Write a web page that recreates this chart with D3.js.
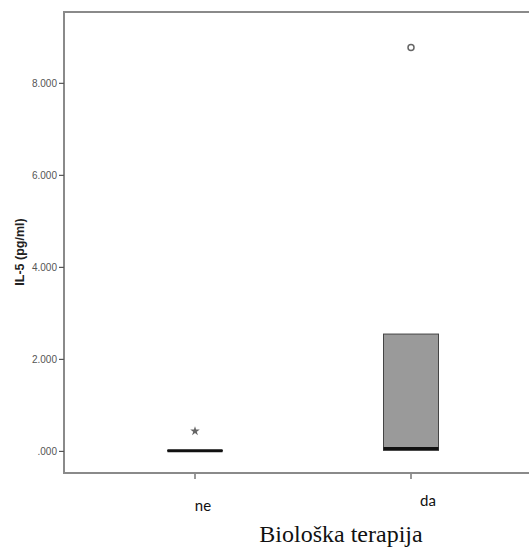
<!DOCTYPE html>
<html>
<head>
<meta charset="utf-8">
<script src="https://cdn.jsdelivr.net/npm/d3@7"></script>
<style>
  html, body { margin: 0; padding: 0; background: #fff; }
  svg { display: block; }
</style>
</head>
<body>
<svg id="chart" width="529" height="549"></svg>
<script>
// Groups on the x axis
const categories = ["ne", "da"];
// Five-number summaries per group (pg/ml)
const minVals    = [0.000, 0.000];
const q1Vals     = [0.000, 0.010];
const medianVals = [0.005, 0.050];
const q3Vals     = [0.010, 2.540];
const maxVals    = [0.010, 2.540];
// Extreme values (star) and outliers (circle)
const extremes = [{ group: "ne", value: 0.43 }];
const outliers = [{ group: "da", value: 8.77 }];
// Axis ticks
const yTicks = [0, 2, 4, 6, 8];
const yTitle = "IL-5 (pg/ml)";
const xTitle = "Biološka terapija";

const boxes = categories.map((c, i) => ({
  group: c, min: minVals[i], q1: q1Vals[i], median: medianVals[i], q3: q3Vals[i], max: maxVals[i]
}));

const svg = d3.select("#chart");
const W = 529, H = 549;
const plotLeft = 64, plotTop = 12, plotBottom = 473;

const x = d3.scaleBand().domain(categories).range([87, 519]).paddingInner(0).paddingOuter(0);
const y = d3.scaleLinear().domain([-0.48, 9.54]).range([plotBottom, plotTop]);
const boxW = 55;
const cx = g => x(g) + x.bandwidth() / 2;

const frame = "#8a8a8a";

// Plot frame (top and left sides; bottom is the x axis)
svg.append("path")
  .attr("d", `M${plotLeft},${plotBottom} V${plotTop} H${W}`)
  .attr("fill", "none").attr("stroke", frame).attr("stroke-width", 2);

// Y axis
const yAxis = svg.append("g")
  .attr("transform", `translate(${plotLeft},0)`)
  .call(d3.axisLeft(y).tickValues(yTicks).tickSize(5).tickPadding(2)
    .tickFormat(d => d === 0 ? ".000" : d3.format(".3f")(d)));
yAxis.select(".domain").remove();
yAxis.selectAll(".tick line").attr("stroke", "#555").attr("stroke-width", 1.2);
yAxis.selectAll(".tick text")
  .attr("fill", "#555")
  .attr("font-family", "Liberation Sans, Arial, sans-serif")
  .attr("font-size", 10);

// X axis
const xAxis = svg.append("g")
  .attr("transform", `translate(0,${plotBottom})`)
  .call(d3.axisBottom(x).tickSize(6).tickFormat(""));
xAxis.select(".domain").remove();
xAxis.selectAll(".tick line").attr("stroke", "#777").attr("stroke-width", 1.5);
svg.append("line")
  .attr("x1", plotLeft - 1).attr("x2", W)
  .attr("y1", plotBottom).attr("y2", plotBottom)
  .attr("stroke", frame).attr("stroke-width", 2);

// Whiskers
const g = svg.append("g");
boxes.forEach(b => {
  if (b.max > b.q3) {
    g.append("line").attr("x1", cx(b.group)).attr("x2", cx(b.group))
      .attr("y1", y(b.q3)).attr("y2", y(b.max)).attr("stroke", "#333");
    g.append("line").attr("x1", cx(b.group) - boxW / 4).attr("x2", cx(b.group) + boxW / 4)
      .attr("y1", y(b.max)).attr("y2", y(b.max)).attr("stroke", "#333");
  }
  if (b.min < b.q1) {
    g.append("line").attr("x1", cx(b.group)).attr("x2", cx(b.group))
      .attr("y1", y(b.q1)).attr("y2", y(b.min)).attr("stroke", "#333");
  }
});

// Boxes
g.selectAll("rect.box").data(boxes).join("rect")
  .attr("class", "box")
  .attr("x", d => cx(d.group) - boxW / 2)
  .attr("width", boxW)
  .attr("y", d => y(d.q3))
  .attr("height", d => Math.max(0, y(d.q1) - y(d.q3)))
  .attr("fill", "#9a9a9a")
  .attr("stroke", "#444")
  .attr("stroke-width", 1);

// Medians
g.selectAll("line.median").data(boxes).join("line")
  .attr("class", "median")
  .attr("x1", d => cx(d.group) - boxW / 2)
  .attr("x2", d => cx(d.group) + boxW / 2)
  .attr("y1", d => y(d.median)).attr("y2", d => y(d.median))
  .attr("stroke", "#111").attr("stroke-width", 3);

// Extreme values
g.selectAll("path.extreme").data(extremes).join("path")
  .attr("class", "extreme")
  .attr("d", d3.symbol(d3.symbolStar, 28))
  .attr("transform", d => `translate(${cx(d.group)},${y(d.value)})`)
  .attr("fill", "#666");

// Outliers
g.selectAll("circle.outlier").data(outliers).join("circle")
  .attr("class", "outlier")
  .attr("cx", d => cx(d.group)).attr("cy", d => y(d.value))
  .attr("r", 3)
  .attr("fill", "#fff").attr("stroke", "#666").attr("stroke-width", 1.5);

// Category labels
const catOffsets = { ne: [8, 507], da: [17, 502] };
svg.selectAll("text.cat").data(categories).join("text")
  .attr("class", "cat")
  .attr("x", d => cx(d) + catOffsets[d][0])
  .attr("y", d => catOffsets[d][1])
  .attr("text-anchor", "middle")
  .attr("dominant-baseline", "middle")
  .attr("font-family", "Lato, 'Open Sans', sans-serif")
  .attr("font-size", 15)
  .attr("fill", "#111")
  .text(d => d);

// X title
svg.append("text")
  .attr("x", 341).attr("y", 542)
  .attr("text-anchor", "middle")
  .attr("font-family", "Liberation Serif, 'Times New Roman', serif")
  .attr("font-size", 24)
  .attr("fill", "#111")
  .text(xTitle);

// Y title
svg.append("text")
  .attr("transform", "translate(24,252) rotate(-90)")
  .attr("text-anchor", "middle")
  .attr("font-family", "Liberation Sans, Arial, sans-serif")
  .attr("font-weight", "bold")
  .attr("font-size", 12.5)
  .attr("fill", "#222")
  .text(yTitle);
</script>
</body>
</html>
